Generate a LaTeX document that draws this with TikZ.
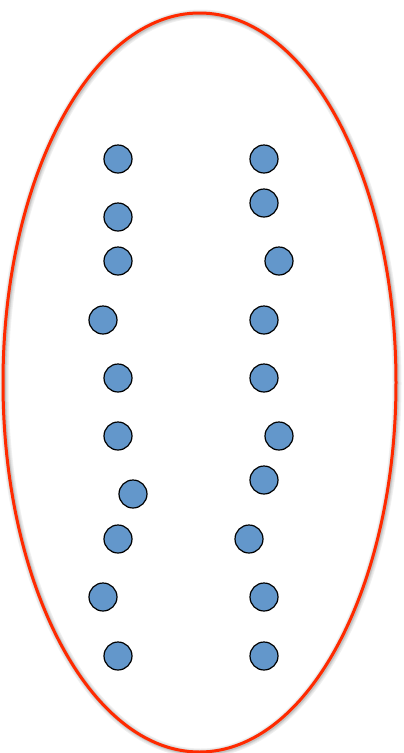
\documentclass[tikz,border=0pt]{standalone}
\begin{document}
\begin{tikzpicture}[x=1pt,y=-1pt,
  dot/.style={circle,draw=black,line width=1.2pt,fill=dotblue,minimum size=28pt,inner sep=0pt}]
\definecolor{dotblue}{HTML}{6397CB}
\definecolor{ovalred}{HTML}{FF2A00}
\useasboundingbox (0,0) rectangle (404,753);
\foreach \w/\g in {9/6,7/10,5/16,3.5/24}{
  \draw[line width=\w pt,black!\g] (200.5,383.5) ellipse [x radius=196.5, y radius=369.5];
}
\draw[line width=3pt,ovalred] (199.5,382.5) ellipse [x radius=196.5, y radius=369.5];
\foreach \n/\x/\y in {l1/118/159,l2/118/217,l3/118/261,l4/103/320,l5/118/378,l6/118/436,l7/133/494,l8/118/539,l9/103/597,l10/118/656,
  r1/264/159,r2/264/203,r3/279/261,r4/264/320,r5/264/378,r6/279/436,r7/264/480,r8/249/539,r9/264/597,r10/264/656}{
  \node[dot] (\n) at (\x,\y) {};
}
\end{tikzpicture}
\end{document}
